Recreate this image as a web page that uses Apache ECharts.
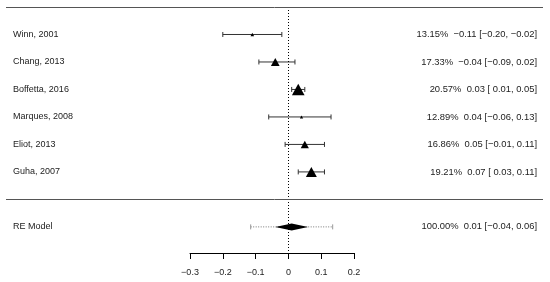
<!DOCTYPE html>
<html>
<head>
<meta charset="utf-8">
<script src="https://cdn.jsdelivr.net/npm/echarts@6/dist/echarts.min.js"></script>
<style>
  html, body { margin: 0; padding: 0; background: #fff; }
  #main { width: 550px; height: 282px; }
</style>
</head>
<body>
<div id="main"></div>
<script>
// forest plot data
var studies = ['Winn, 2001', 'Chang, 2013', 'Boffetta, 2016', 'Marques, 2008', 'Eliot, 2013', 'Guha, 2007'];
var weights = [13.15, 17.33, 20.57, 12.89, 16.86, 19.21];
var estimates = [-0.11, -0.04, 0.03, 0.04, 0.05, 0.07];
var lowers = [-0.20, -0.09, 0.01, -0.06, -0.01, 0.03];
var uppers = [-0.02, 0.02, 0.05, 0.13, 0.11, 0.11];

var modelName = 'RE Model';
var modelWeight = 100.00;
var modelEst = 0.01;
var modelLower = -0.04;
var modelUpper = 0.06;
var predLower = -0.115;
var predUpper = 0.135;

var font = 'Liberation Sans';
var textColor = '#222';

function fmt(v) {
    var s = Math.abs(v).toFixed(2);
    return v < 0 ? '\u2212' + s : s;
}
function annot(w, e, lo, hi) {
    return w.toFixed(2) + '%  ' + fmt(e) + ' [' + (lo < 0 ? '' : ' ') + fmt(lo) + ', ' + fmt(hi) + ']';
}

// rows: studies at 0..5, separator at 6, model at 7
var rows = [];
var ciData = [];
var pointData = [];
var minW = Math.min.apply(null, weights), maxW = Math.max.apply(null, weights);
studies.forEach(function (s, i) {
    ciData.push([lowers[i], uppers[i], i]);
    var size = 3 + (weights[i] - minW) / (maxW - minW) * 8.5;
    pointData.push({ value: [estimates[i], i], symbolSize: [size * 1.1, size] });
    rows.push([0, i, s, annot(weights[i], estimates[i], lowers[i], uppers[i])]);
});
rows.push([0, 7, modelName, annot(modelWeight, modelEst, modelLower, modelUpper)]);

var myChart = echarts.init(document.getElementById('main'));

var yMain = { type: 'value', min: -1, max: 7.95, inverse: true, show: false };

myChart.setOption({
    animation: false,
    grid: [
        { left: 190, right: 196, top: 7, bottom: 29 },
        { left: 0, right: 0, top: 7, bottom: 29 }
    ],
    xAxis: [{
        type: 'value', gridIndex: 0, min: -0.3, max: 0.2, interval: 0.1,
        splitLine: { show: false },
        axisLine: { show: true, onZero: false, lineStyle: { color: '#000', width: 1 } },
        axisTick: { show: true, length: 6, lineStyle: { color: '#000' } },
        axisLabel: {
            margin: 15, fontSize: 9, fontFamily: font, color: textColor,
            formatter: function (v) {
                var r = Math.round(v * 10) / 10;
                return r < 0 ? '\u2212' + Math.abs(r) : String(r);
            }
        }
    }, {
        type: 'value', gridIndex: 1, min: 0, max: 550, show: false
    }],
    yAxis: [
        Object.assign({ gridIndex: 0 }, yMain),
        Object.assign({ gridIndex: 1 }, yMain)
    ],
    series: [{
        // zero reference line
        type: 'scatter', xAxisIndex: 0, yAxisIndex: 0, data: [],
        markLine: {
            silent: true, symbol: 'none', label: { show: false },
            lineStyle: { color: '#000', type: [1, 2], width: 1 },
            data: [{ xAxis: 0 }]
        }
    }, {
        // study confidence intervals
        type: 'custom', xAxisIndex: 0, yAxisIndex: 0, data: ciData,
        renderItem: function (params, api) {
            var a = api.coord([api.value(0), api.value(2)]);
            var b = api.coord([api.value(1), api.value(2)]);
            var st = { stroke: '#333', lineWidth: 1 };
            return {
                type: 'group', children: [
                    { type: 'line', shape: { x1: a[0], y1: a[1], x2: b[0], y2: b[1] }, style: st },
                    { type: 'line', shape: { x1: a[0], y1: a[1] - 2.5, x2: a[0], y2: a[1] + 2.5 }, style: st },
                    { type: 'line', shape: { x1: b[0], y1: b[1] - 2.5, x2: b[0], y2: b[1] + 2.5 }, style: st }
                ]
            };
        }
    }, {
        // study estimates
        type: 'scatter', xAxisIndex: 0, yAxisIndex: 0, symbol: 'triangle',
        itemStyle: { color: '#000', opacity: 1 }, data: pointData, z: 5
    }, {
        // summary: prediction interval + diamond
        type: 'custom', xAxisIndex: 0, yAxisIndex: 0,
        data: [[predLower, predUpper, modelLower, modelEst, modelUpper, 7]],
        renderItem: function (params, api) {
            var k = api.value(5);
            var p1 = api.coord([api.value(0), k]);
            var p2 = api.coord([api.value(1), k]);
            var lo = api.coord([api.value(2), k]);
            var mid = api.coord([api.value(3), k]);
            var hi = api.coord([api.value(4), k]);
            var st = { stroke: '#777', lineWidth: 1, lineDash: [1, 1.5] };
            return {
                type: 'group', children: [
                    { type: 'line', shape: { x1: p1[0], y1: p1[1], x2: p2[0], y2: p2[1] }, style: st },
                    { type: 'line', shape: { x1: p1[0], y1: p1[1] - 2.5, x2: p1[0], y2: p1[1] + 2.5 }, style: { stroke: '#999', lineWidth: 1 } },
                    { type: 'line', shape: { x1: p2[0], y1: p2[1] - 2.5, x2: p2[0], y2: p2[1] + 2.5 }, style: { stroke: '#999', lineWidth: 1 } },
                    {
                        type: 'polygon',
                        shape: { points: [[lo[0], lo[1]], [mid[0], mid[1] - 3.5], [hi[0], hi[1]], [mid[0], mid[1] + 3.5]] },
                        style: { fill: '#000' }
                    }
                ]
            };
        },
        z: 6
    }, {
        // row text and horizontal rules
        type: 'custom', xAxisIndex: 1, yAxisIndex: 1, data: rows,
        renderItem: function (params, api) {
            var y = api.coord([0, api.value(1)])[1];
            var r = rows[params.dataIndex];
            var ts = function (text, x, align, size) {
                return {
                    type: 'text', x: x, y: y,
                    style: { text: text, fill: textColor, font: size + 'px "' + font + '"', align: align, verticalAlign: 'middle' }
                };
            };
            return {
                type: 'group', children: [
                    ts(r[2], 13, 'left', 9),
                    ts(r[3], 537, 'right', 9.4)
                ]
            };
        },
        markLine: {
            silent: true, symbol: 'none', label: { show: false },
            lineStyle: { color: '#555', type: 'solid', width: 1 },
            data: [
                [{ coord: [6, -1] }, { coord: [543, -1] }],
                [{ coord: [6, 6] }, { coord: [543, 6] }]
            ]
        }
    }]
});
</script>
</body>
</html>
